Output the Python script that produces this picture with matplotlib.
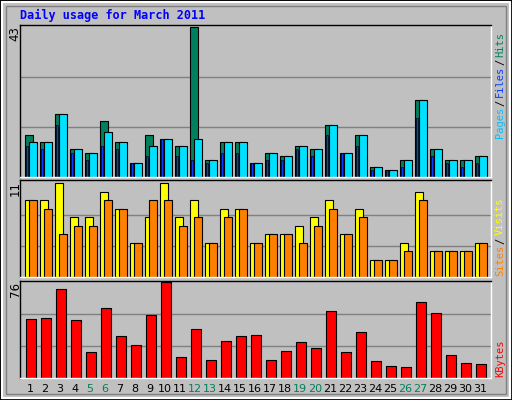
import matplotlib
matplotlib.use("Agg")
import matplotlib.pyplot as plt
from matplotlib.patches import Rectangle

days = list(range(1, 32))
weekend = [5, 6, 12, 13, 19, 20, 26, 27]
hits = [12, 10, 18, 8, 7, 16, 10, 4, 12, 11, 9, 43, 5, 10, 10, 4, 7, 6, 9, 8, 15, 7, 12, 3, 2, 5, 22, 8, 5, 5, 6]
files = [10, 10, 18, 8, 7, 13, 10, 4, 9, 11, 9, 11, 5, 10, 10, 4, 7, 6, 9, 8, 15, 7, 12, 3, 2, 5, 22, 8, 5, 5, 6]
pages = [9, 8, 15, 7, 5, 9, 8, 4, 6, 11, 6, 5, 4, 7, 7, 4, 5, 5, 8, 6, 12, 7, 9, 2, 2, 3, 17, 6, 4, 3, 4]
visits = [9, 9, 11, 7, 7, 10, 8, 4, 7, 11, 7, 9, 4, 8, 8, 4, 5, 5, 6, 7, 9, 5, 8, 2, 2, 4, 10, 3, 3, 3, 4]
sites = [9, 8, 5, 6, 6, 9, 8, 4, 9, 9, 6, 7, 4, 7, 8, 4, 5, 5, 4, 6, 8, 5, 7, 2, 2, 3, 9, 3, 3, 3, 4]
kbytes = [46.9, 48, 70.3, 46, 20.3, 55.3, 33.6, 26.1, 50.3, 76, 17, 38.6, 14.4, 29.4, 33.6, 34.4,
          14.4, 21.1, 28.6, 23.6, 52.8, 20.3, 36.9, 13.6, 9.4, 8.6, 60.3, 51.9, 18.6, 11.9, 11.1]

W, H = 512, 400
BG = "#c0c0c0"
fig = plt.figure(figsize=(W / 100, H / 100), dpi=100, facecolor=BG)

# outer frame and bevel
fig.patches.append(Rectangle((0, 0), 1, 1, transform=fig.transFigure, fill=False, edgecolor="black", lw=2))
fig.patches.append(Rectangle((2 / W, 2 / H), 1 - 4 / W, 1 - 4 / H, transform=fig.transFigure,
                             fill=False, edgecolor="white", lw=1.5))
fig.patches.append(Rectangle((6 / W, 6 / H), 1 - 12 / W, 1 - 12 / H, transform=fig.transFigure,
                             fill=False, edgecolor="#808080", lw=1))

mono = "DejaVu Sans Mono"


def make_ax(top, bottom):
    ax = fig.add_axes([20 / W, 1 - bottom / H, 471 / W, (bottom - top) / H])
    ax.set_facecolor(BG)
    ax.set_xlim(-0.333, 31.067)
    ax.set_xticks([])
    ax.set_yticks([])
    for s in ax.spines.values():
        s.set_color("black")
        s.set_linewidth(1)
    ax.spines["right"].set_color("white")
    ax.spines["bottom"].set_color("white")
    return ax


x = [d - 1 for d in days]

ax1 = make_ax(25, 177)
ax1.set_ylim(0, 43.5)
for g in (43 / 3, 43 * 2 / 3):
    ax1.axhline(g, color="#808080", lw=1, zorder=0)
ax1.bar([i for i in x], hits, width=0.533, align="edge", color="#00805c", edgecolor="black", lw=0.8)
ax1.bar([i + 0.267 for i in x], files, width=0.533, align="edge", color="#00e0ff", edgecolor="black", lw=0.8)
ax1.bar([i + 0.1 for i in x], pages, width=0.13, align="edge", color="#0040ff", edgecolor="black", lw=0.5)

ax2 = make_ax(180, 277)
ax2.set_ylim(0, 11.4)
for g in (11 / 3, 22 / 3):
    ax2.axhline(g, color="#808080", lw=1, zorder=0)
ax2.bar(x, visits, width=0.533, align="edge", color="#ffff00", edgecolor="black", lw=0.8)
ax2.bar([i + 0.267 for i in x], sites, width=0.533, align="edge", color="#ff8000", edgecolor="black", lw=0.8)

ax3 = make_ax(281, 378)
ax3.set_ylim(0, 77)
for g in (76 / 3, 152 / 3):
    ax3.axhline(g, color="#808080", lw=1, zorder=0)
ax3.bar([i + 0.067 for i in x], kbytes, width=0.667, align="edge", color="#ff0000", edgecolor="black", lw=0.8)

# day labels
for d in days:
    px = 20 + 5 + 15 * (d - 1) + 5
    fig.text(px / W, 1 - 389 / H, str(d), ha="center", va="center", fontsize=8,
             color="#00805c" if d in weekend else "black")

# max labels
for y, t in ((26, "43"), (181, "11"), (282, "76")):
    fig.text(15 / W, 1 - y / H, t, rotation=90, ha="center", va="top", fontsize=8.5)

fig.text(20 / W, 1 - 15 / H, "Daily usage for March 2011", fontsize=8.5, fontweight="bold",
         color="#0000ff", family=mono, va="center")


def side_label(parts, bottom):
    y = bottom
    for txt, col in parts:
        fig.text(500 / W, 1 - y / H, txt, rotation=90, ha="center", va="bottom",
                 fontsize=7.5, color=col, family=mono)
        y -= len(txt) * 6.1 + 2


side_label([("Pages", "#00c0ff"), ("/", "black"), ("Files", "#0040ff"), ("/", "black"), ("Hits", "#00805c")], 138)
side_label([("Sites", "#ff8000"), ("/", "black"), ("Visits", "#ffff00")], 276)
side_label([("KBytes", "#ff0000")], 377)

fig.savefig("out.png", dpi=100, facecolor=BG)
